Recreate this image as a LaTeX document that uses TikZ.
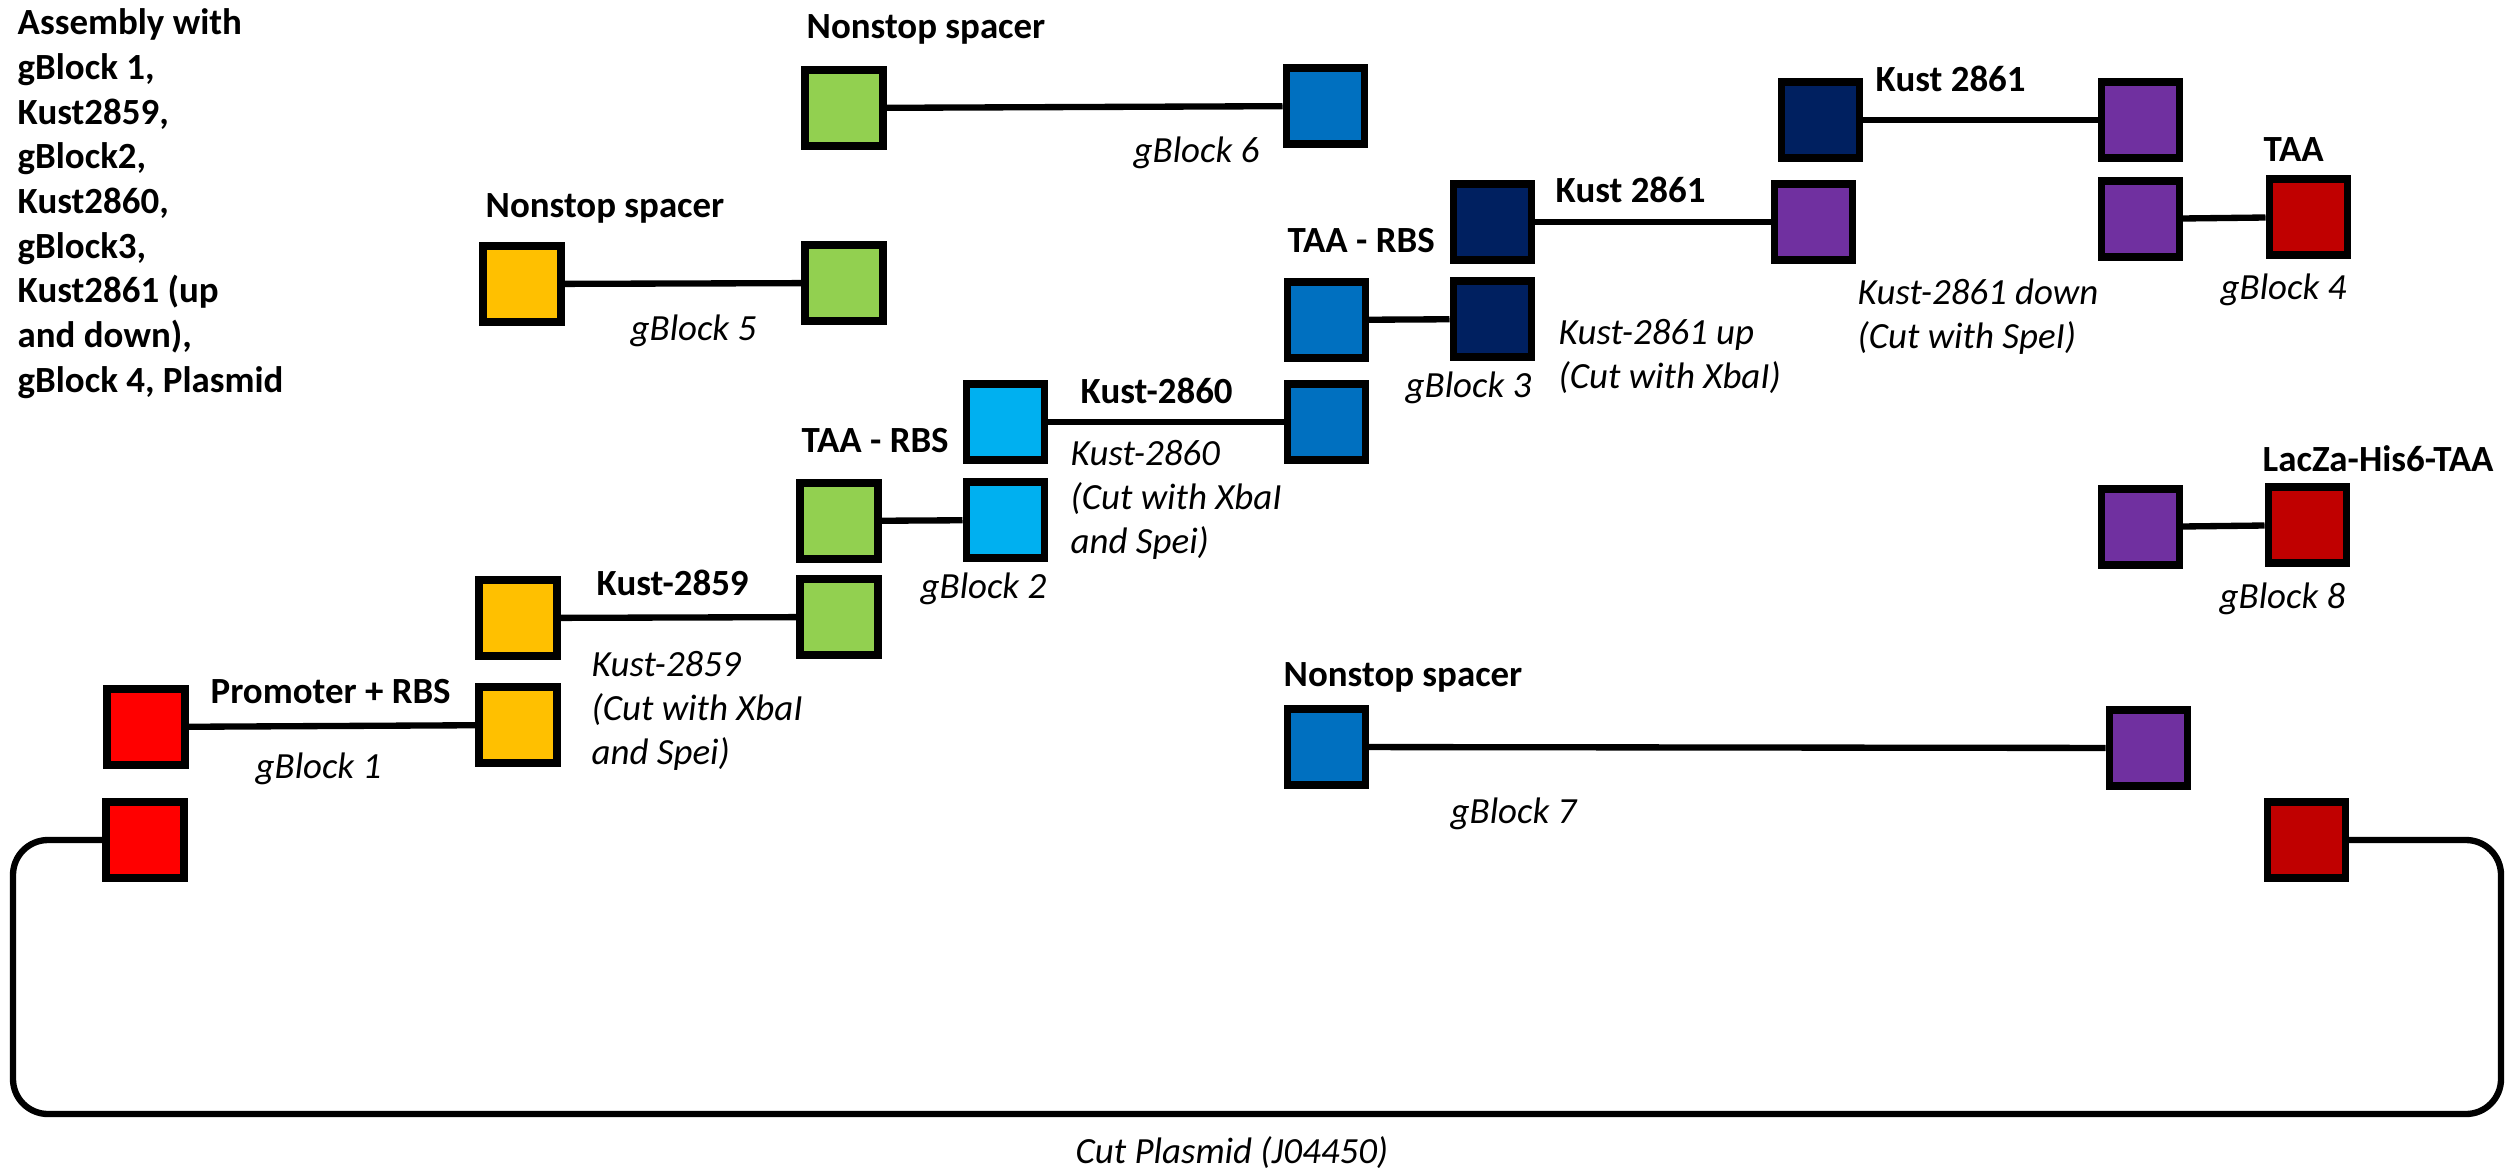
\documentclass[tikz,border=0pt]{standalone}
\usepackage{fontspec}
\setmainfont{Carlito}
\usepackage{tikz}
\usetikzlibrary{positioning}

\definecolor{pred}{HTML}{FF0000}
\definecolor{dred}{HTML}{C00000}
\definecolor{pyellow}{HTML}{FFC000}
\definecolor{pgreen}{HTML}{92D050}
\definecolor{pblue}{HTML}{0070C0}
\definecolor{lblue}{HTML}{00B0F0}
\definecolor{navy}{HTML}{002060}
\definecolor{ppurple}{HTML}{7030A0}

\tikzset{
    part/.style={draw=black, line width=2pt, minimum width=0.78cm, minimum height=0.76cm, inner sep=0pt},
    link/.style={line width=1.8pt},
    title/.style={font=\fontsize{10.5}{12.7}\selectfont\bfseries, inner sep=0pt, anchor=base west, align=left},
    note/.style={font=\fontsize{10.5}{12.4}\selectfont\itshape, inner sep=0pt, anchor=base west, align=left}
}

\begin{document}
\begin{tikzpicture}
        \useasboundingbox (0,0) rectangle (25.09,-11.75);
        \node[part, fill=pgreen] (g6a) at (8.44,-1.08) {};
        \node[part, fill=pblue] (g6b) at (13.25,-1.06) {};
        \node[part, fill=pyellow] (g5a) at (5.22,-2.84) {};
        \node[part, fill=pgreen] (g5b) at (8.44,-2.83) {};
        \node[part, fill=pred] (g1a) at (1.46,-7.27) {};
        \node[part, fill=pyellow] (g1b) at (5.18,-7.25) {};
        \node[part, fill=pyellow] (k59a) at (5.18,-6.18) {};
        \node[part, fill=pgreen] (k59b) at (8.39,-6.17) {};
        \node[part, fill=pgreen] (g2a) at (8.39,-5.21) {};
        \node[part, fill=lblue] (g2b) at (10.05,-5.20) {};
        \node[part, fill=lblue] (k60a) at (10.05,-4.22) {};
        \node[part, fill=pblue] (k60b) at (13.26,-4.22) {};
        \node[part, fill=pblue] (g3a) at (13.26,-3.20) {};
        \node[part, fill=navy] (g3b) at (14.92,-3.19) {};
        \node[part, fill=navy] (k61a) at (14.92,-2.22) {};
        \node[part, fill=ppurple] (k61b) at (18.13,-2.22) {};
        \node[part, fill=navy] (k61c) at (18.20,-1.20) {};
        \node[part, fill=ppurple] (k61d) at (21.40,-1.20) {};
        \node[part, fill=ppurple] (g4a) at (21.40,-2.19) {};
        \node[part, fill=dred] (g4b) at (23.08,-2.17) {};
        \node[part, fill=ppurple] (g8a) at (21.40,-5.27) {};
        \node[part, fill=dred] (g8b) at (23.07,-5.25) {};
        \node[part, fill=pblue] (g7a) at (13.26,-7.47) {};
        \node[part, fill=ppurple] (g7b) at (21.48,-7.48) {};
        \node[part, fill=pred] (cut1) at (1.45,-8.40) {};
        \node[part, fill=dred] (cut2) at (23.06,-8.40) {};
        \coordinate (loopsw) at (0.13,-11.14);
        \coordinate (loopse) at (25.01,-11.14);
        \draw[link] (g6a) -- (g6b);
        \draw[link] (g5a) -- (g5b);
        \draw[link] (g1a) -- (g1b);
        \draw[link] (k59a) -- (k59b);
        \draw[link] (g2a) -- (g2b);
        \draw[link] (k60a) -- (k60b);
        \draw[link] (g3a) -- (g3b);
        \draw[link] (k61a) -- (k61b);
        \draw[link] (k61c) -- (k61d);
        \draw[link] (g4a) -- (g4b);
        \draw[link] (g8a) -- (g8b);
        \draw[link] (g7a) -- (g7b);
        \draw[link, rounded corners=0.35cm] (cut1.west) -| (loopsw) -- (loopse) |- (cut2.east);
        \node[title] (info) at (0.17,-3.92) {Assembly with\\gBlock 1,\\Kust2859,\\gBlock2,\\Kust2860,\\gBlock3,\\Kust2861 (up\\and down),\\gBlock 4, Plasmid};
        \node[title] (t6) at (8.06,-0.39) {Nonstop spacer};
        \node[title] (t5) at (4.85,-2.17) {Nonstop spacer};
        \node[title] (t7) at (12.83,-6.86) {Nonstop spacer};
        \node[title] (t61d) at (18.75,-0.92) {Kust 2861};
        \node[title] (t61u) at (15.55,-2.02) {Kust 2861};
        \node[title] (t4) at (22.63,-1.62) {TAA};
        \node[title] (t3) at (12.87,-2.53) {TAA - RBS};
        \node[title] (t60) at (10.80,-4.03) {Kust-2860};
        \node[title] (t2) at (8.01,-4.52) {TAA - RBS};
        \node[title] (t59) at (5.96,-5.95) {Kust-2859};
        \node[title] (t1) at (2.10,-7.03) {Promoter + RBS};
        \node[title] (t8) at (22.62,-4.71) {LacZa-His6-TAA};
        \node[note] (n6) at (11.33,-1.63) {gBlock 6};
        \node[note] (n5) at (6.30,-3.40) {gBlock 5};
        \node[note] (n3) at (14.05,-3.97) {gBlock 3};
        \node[note] (n61u) at (15.58,-3.88) {Kust-2861 up\\(Cut with XbaI)};
        \node[note] (n61d) at (18.57,-3.48) {Kust-2861 down\\(Cut with SpeI)};
        \node[note] (n4) at (22.20,-3.00) {gBlock 4};
        \node[note] (n60) at (10.70,-5.53) {Kust-2860\\(Cut with XbaI\\and Spei)};
        \node[note] (n2) at (9.20,-5.98) {gBlock 2};
        \node[note] (n59) at (5.91,-7.64) {Kust-2859\\(Cut with XbaI\\and Spei)};
        \node[note] (n1) at (2.55,-7.78) {gBlock 1};
        \node[note] (n8) at (22.19,-6.08) {gBlock 8};
        \node[note] (n7) at (14.50,-8.23) {gBlock 7};
        \node[note] (nplasmid) at (10.75,-11.63) {Cut Plasmid (J04450)};
    \end{tikzpicture}
\end{document}
